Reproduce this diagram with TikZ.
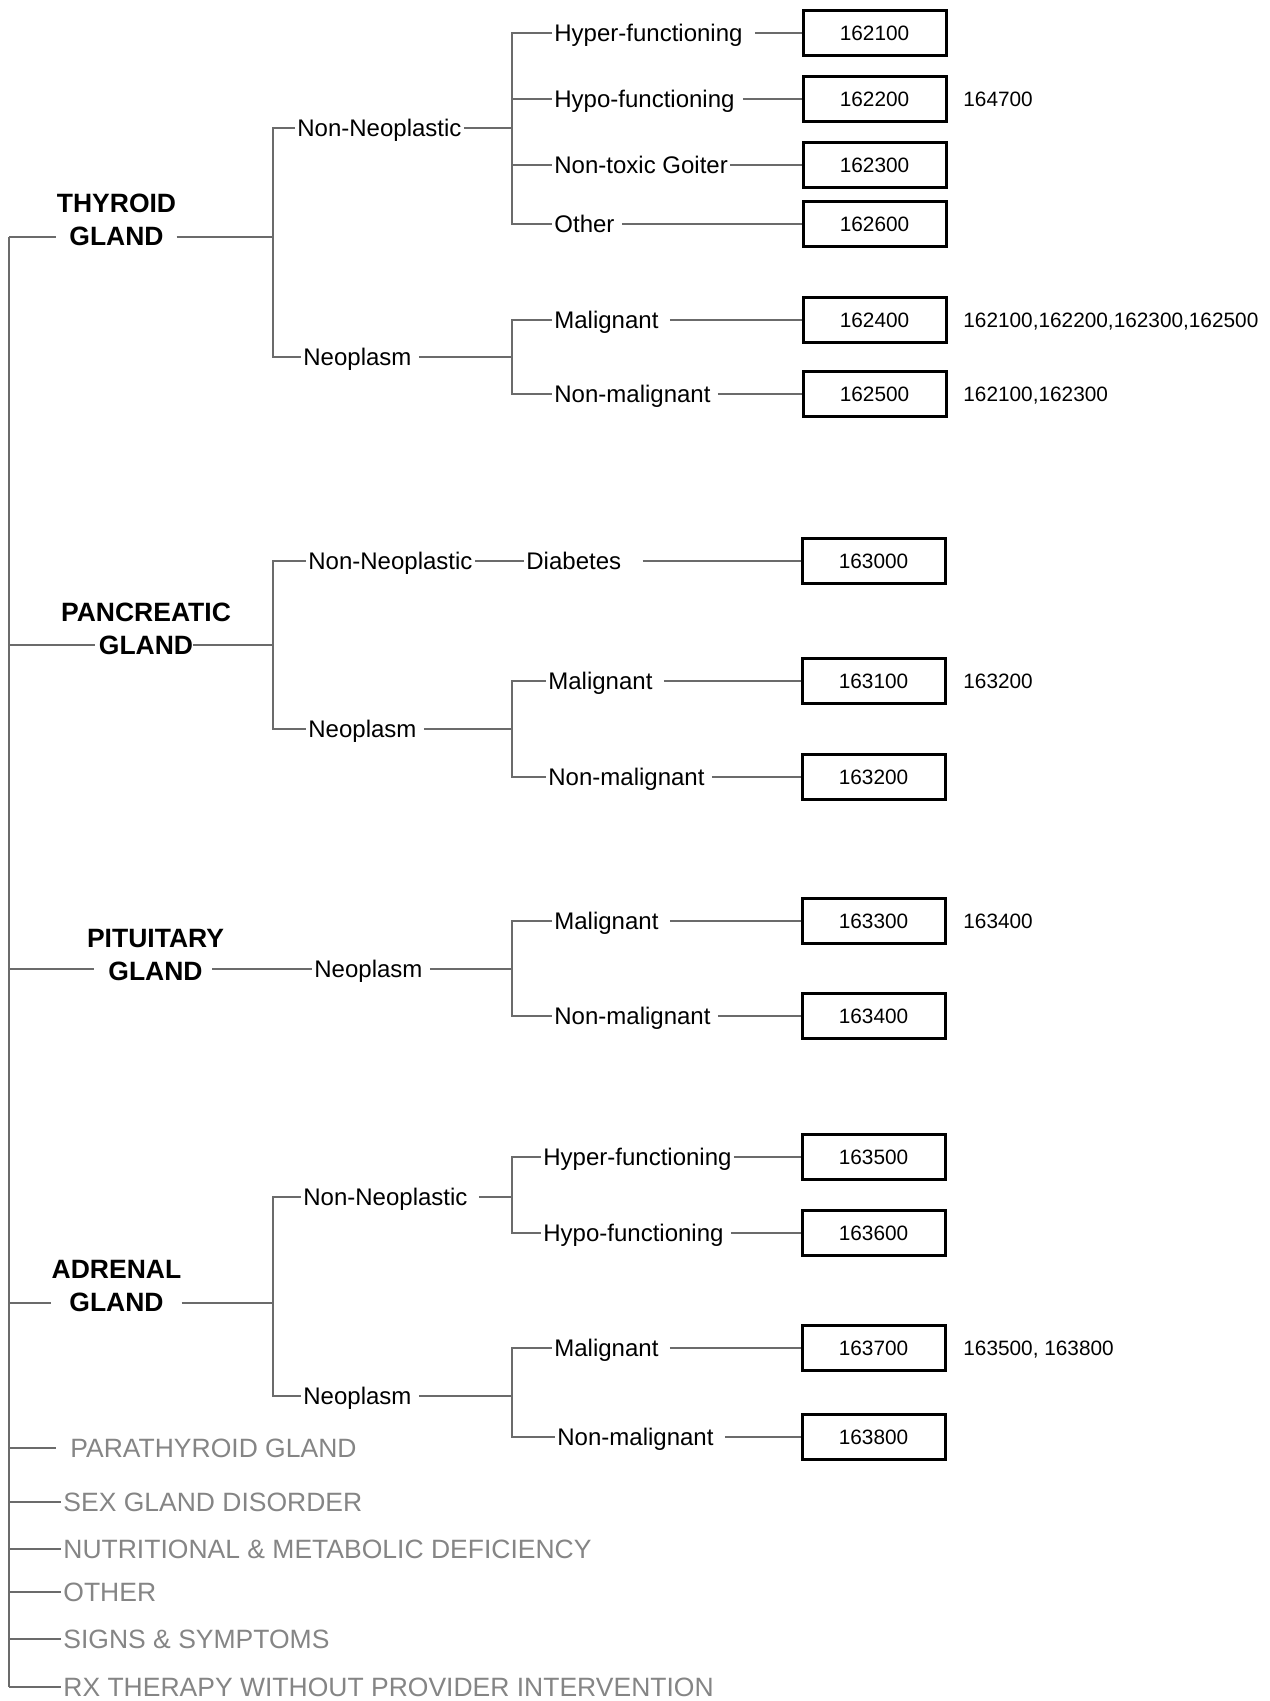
\documentclass[tikz,border=0pt]{standalone}
\usepackage{fontspec}
\setmainfont{Liberation Sans}
\begin{document}
\begin{tikzpicture}[x=0.5pt, y=-0.5pt]

  % Define Colors
  \definecolor{linegray}{gray}{0.42}
  \definecolor{textgray}{gray}{0.52}

  % Node styles
  \tikzstyle{grp}=[align=center, inner sep=0pt, font=\fontsize{13.25}{16.5}\selectfont\bfseries]
  \tikzstyle{cat}=[anchor=west, inner sep=1pt, text height=8.6pt, text depth=0pt, font=\fontsize{12}{14}\selectfont]
  \tikzstyle{cbox}=[rectangle, draw, line width=1.5pt, minimum width=71.5pt, minimum height=22.5pt, inner sep=0pt, text height=7.45pt, text depth=0pt, font=\fontsize{10.4}{12}\selectfont]
  \tikzstyle{note}=[anchor=west, inner sep=1pt, text height=7.45pt, text depth=0pt, font=\fontsize{10.4}{12}\selectfont]
  \tikzstyle{gray_item}=[anchor=west, inner sep=1pt, text height=9.5pt, text depth=0pt, text=textgray, font=\fontsize{13.25}{16}\selectfont]

  \tikzstyle{br}=[line width=0.85pt, linegray]
  \tikzstyle{gap1}=[shorten <=2.5pt]
  \tikzstyle{gap2}=[shorten <=4.5pt]

  \useasboundingbox (0,0) rectangle (1269,1701);

  % Trunk
  \coordinate (t_1) at (9,237);
  \coordinate (t_2) at (9,645);
  \coordinate (t_3) at (9,969);
  \coordinate (t_4) at (9,1303);
  \coordinate (t_5) at (9,1448);
  \coordinate (t_6) at (9,1502);
  \coordinate (t_7) at (9,1549);
  \coordinate (t_8) at (9,1592);
  \coordinate (t_9) at (9,1639);
  \coordinate (t_10) at (9,1687);

  % Junctions
  \coordinate (j_1) at (273,237);
  \coordinate (j_2) at (273,645);
  \coordinate (j_4) at (273,1303);
  \coordinate (j_1_1) at (512,128);
  \coordinate (j_1_2) at (512,357);
  \coordinate (j_2_2) at (512,729);
  \coordinate (j_3_1) at (512,969);
  \coordinate (j_4_1) at (512,1197);
  \coordinate (j_4_2) at (512,1396);

  % Glands
  \node[grp] (g_1) at (116.5,220) {THYROID\\GLAND};
  \node[grp] (g_2) at (146,628.5) {PANCREATIC\\GLAND};
  \node[grp] (g_3) at (155.5,955.5) {PITUITARY\\GLAND};
  \node[grp] (g_4) at (116.5,1286) {ADRENAL\\GLAND};

  % Categories
  \node[cat] (c_1_1) at (295,128) {Non-Neoplastic};
  \node[cat] (c_1_2) at (301,357) {Neoplasm};
  \node[cat] (c_2_1) at (306,561) {Non-Neoplastic};
  \node[cat] (c_2_2) at (306,729) {Neoplasm};
  \node[cat] (c_3_1) at (312,969) {Neoplasm};
  \node[cat] (c_4_1) at (301,1197) {Non-Neoplastic};
  \node[cat] (c_4_2) at (301,1396) {Neoplasm};

  % Sub-categories
  \node[cat] (s_1_1) at (552,33) {Hyper-functioning};
  \node[cat] (s_1_2) at (552,99) {Hypo-functioning};
  \node[cat] (s_1_3) at (552,165) {Non-toxic Goiter};
  \node[cat] (s_1_4) at (552,224) {Other};
  \node[cat] (s_1_5) at (552,320) {Malignant};
  \node[cat] (s_1_6) at (552,394) {Non-malignant};

  \node[cat] (s_2_1) at (524,561) {Diabetes};
  \node[cat] (s_2_2) at (546,681) {Malignant};
  \node[cat] (s_2_3) at (546,777) {Non-malignant};

  \node[cat] (s_3_1) at (552,921) {Malignant};
  \node[cat] (s_3_2) at (552,1016) {Non-malignant};

  \node[cat] (s_4_1) at (541,1157) {Hyper-functioning};
  \node[cat] (s_4_2) at (541,1233) {Hypo-functioning};
  \node[cat] (s_4_3) at (552,1348) {Malignant};
  \node[cat] (s_4_4) at (555,1437) {Non-malignant};

  % Code boxes
  \node[cbox] (b_1_1) at (874.5,33) {162100};
  \node[cbox] (b_1_2) at (874.5,99) {162200};
  \node[cbox] (b_1_3) at (874.5,165) {162300};
  \node[cbox] (b_1_4) at (874.5,224) {162600};
  \node[cbox] (b_1_5) at (874.5,320) {162400};
  \node[cbox] (b_1_6) at (874.5,394) {162500};

  \node[cbox] (b_2_1) at (873.5,561) {163000};
  \node[cbox] (b_2_2) at (873.5,681) {163100};
  \node[cbox] (b_2_3) at (873.5,777) {163200};

  \node[cbox] (b_3_1) at (873.5,921) {163300};
  \node[cbox] (b_3_2) at (873.5,1016) {163400};

  \node[cbox] (b_4_1) at (873.5,1157) {163500};
  \node[cbox] (b_4_2) at (873.5,1233) {163600};
  \node[cbox] (b_4_3) at (873.5,1348) {163700};
  \node[cbox] (b_4_4) at (873.5,1437) {163800};

  % Notes
  \node[note] (r_1_2) at (961,99) {164700};
  \node[note] (r_1_5) at (961,320) {162100,162200,162300,162500};
  \node[note] (r_1_6) at (961,394) {162100,162300};
  \node[note] (r_2_2) at (961,681) {163200};
  \node[note] (r_3_1) at (961,921) {163400};
  \node[note] (r_4_3) at (961,1348) {163500, 163800};

  % Other groups
  \node[gray_item] (o_1) at (68,1448) {PARATHYROID GLAND};
  \node[gray_item] (o_2) at (61,1502) {SEX GLAND DISORDER};
  \node[gray_item] (o_3) at (61,1549) {NUTRITIONAL \& METABOLIC DEFICIENCY};
  \node[gray_item] (o_4) at (61,1592) {OTHER};
  \node[gray_item] (o_5) at (61,1639) {SIGNS \& SYMPTOMS};
  \node[gray_item] (o_6) at (61,1687) {RX THERAPY WITHOUT PROVIDER INTERVENTION};

  % Trunk links
  \draw[br] (t_1) -- (t_10);
  \draw[br] (t_1) -- (g_1.west |- t_1);
  \draw[br, shorten >=-17pt] (t_2) -- (g_2.west |- t_2);
  \draw[br, shorten >=-3.5pt] (t_3) -- (g_3.west |- t_3);
  \draw[br] (t_4) -- (g_4.west |- t_4);
  \draw[br, shorten >=6pt] (t_5) -- (o_1.west);
  \draw[br] (t_6) -- (o_2.west);
  \draw[br] (t_7) -- (o_3.west);
  \draw[br] (t_8) -- (o_4.west);
  \draw[br] (t_9) -- (o_5.west);
  \draw[br] (t_10) -- (o_6.west);

  % Thyroid links
  \draw[br] (g_1.east |- j_1) -- (j_1);
  \draw[br] (c_1_1.west) -| (j_1) |- (c_1_2.west);
  \draw[br] (c_1_1.east) -- (j_1_1);
  \draw[br, gap1] (c_1_2.east) -- (j_1_2);
  \draw[br] (s_1_1.west) -| (j_1_1) |- (s_1_4.west);
  \draw[br] (j_1_1 |- s_1_2.west) -- (s_1_2.west);
  \draw[br] (j_1_1 |- s_1_3.west) -- (s_1_3.west);
  \draw[br] (s_1_5.west) -| (j_1_2) |- (s_1_6.west);
  \draw[br, shorten <=5pt] (s_1_1.east) -- (b_1_1.west);
  \draw[br, shorten <=3pt] (s_1_2.east) -- (b_1_2.west);
  \draw[br] (s_1_3.east) -- (b_1_3.west);
  \draw[br, gap1] (s_1_4.east) -- (b_1_4.west);
  \draw[br, gap2] (s_1_5.east) -- (b_1_5.west);
  \draw[br, gap1] (s_1_6.east) -- (b_1_6.west);

  % Pancreatic links
  \draw[br, shorten <=-19pt] (g_2.east |- j_2) -- (j_2);
  \draw[br] (c_2_1.west) -| (j_2) |- (c_2_2.west);
  \draw[br] (c_2_1.east) -- (s_2_1.west);
  \draw[br, gap1] (c_2_2.east) -- (j_2_2);
  \draw[br] (s_2_2.west) -| (j_2_2) |- (s_2_3.west);
  \draw[br, shorten <=9.5pt] (s_2_1.east) -- (b_2_1.west);
  \draw[br, gap2] (s_2_2.east) -- (b_2_2.west);
  \draw[br, gap1] (s_2_3.east) -- (b_2_3.west);

  % Pituitary links
  \draw[br, shorten <=-6pt] (g_3.east |- c_3_1) -- (c_3_1.west);
  \draw[br, gap1] (c_3_1.east) -- (j_3_1);
  \draw[br] (s_3_1.west) -| (j_3_1) |- (s_3_2.west);
  \draw[br, gap2] (s_3_1.east) -- (b_3_1.west);
  \draw[br, gap1] (s_3_2.east) -- (b_3_2.west);

  % Adrenal links
  \draw[br] (g_4.east |- j_4) -- (j_4);
  \draw[br] (c_4_1.west) -| (j_4) |- (c_4_2.west);
  \draw[br, gap2] (c_4_1.east) -- (j_4_1);
  \draw[br, gap1] (c_4_2.east) -- (j_4_2);
  \draw[br] (s_4_1.west) -| (j_4_1) |- (s_4_2.west);
  \draw[br] (s_4_3.west) -| (j_4_2) |- (s_4_4.west);
  \draw[br] (s_4_1.east) -- (b_4_1.west);
  \draw[br, gap1] (s_4_2.east) -- (b_4_2.west);
  \draw[br, gap2] (s_4_3.east) -- (b_4_3.west);
  \draw[br, gap2] (s_4_4.east) -- (b_4_4.west);

\end{tikzpicture}
\end{document}
